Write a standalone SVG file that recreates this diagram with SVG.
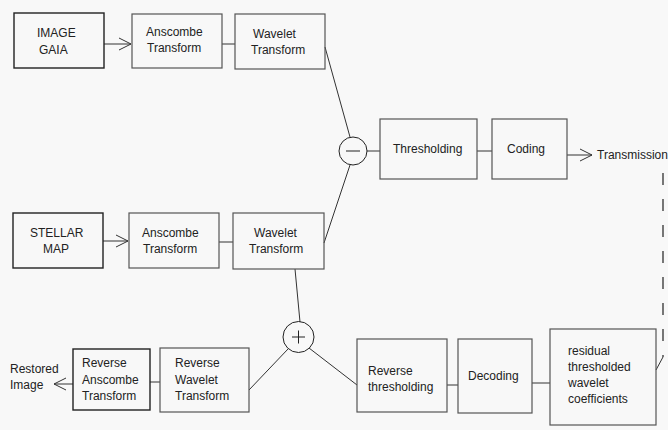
<svg xmlns="http://www.w3.org/2000/svg" width="668" height="430" viewBox="0 0 668 430">
  <defs>
    <style>
      .bg { fill: #f8f8f8; }
      .box { fill: none; stroke: #555; stroke-width: 1.2; }
      .src { fill: none; stroke: #222; stroke-width: 1.4; }
      .op { fill: none; stroke: #222; stroke-width: 1; }
      .ln { fill: none; stroke: #333; stroke-width: 1; }
      .dash { fill: none; stroke: #222; stroke-width: 1.2; stroke-dasharray: 12 14; }
      text { font-family: "Liberation Sans", Arial, sans-serif; font-size: 12px; fill: #222; }
    </style>
    <marker id="chev" markerUnits="userSpaceOnUse" markerWidth="16" markerHeight="16" refX="13" refY="7" orient="auto">
      <path d="M1,1 L13,7 L1,13" fill="none" stroke="#333" stroke-width="1"/>
    </marker>
  </defs>

  <rect class="bg" x="0" y="0" width="668" height="430"/>

  <!-- connectors -->
  <g id="connectors">
    <line class="ln" x1="104" y1="44" x2="131" y2="44" marker-end="url(#chev)"/>
    <line class="ln" x1="222" y1="44" x2="235" y2="44"/>
    <line class="ln" x1="325" y1="47" x2="350" y2="137"/>
    <line class="ln" x1="350" y1="165" x2="324" y2="243"/>
    <line class="ln" x1="367" y1="151" x2="380" y2="151"/>
    <line class="ln" x1="477" y1="151" x2="492" y2="151"/>
    <line class="ln" x1="567" y1="155" x2="592" y2="155" marker-end="url(#chev)"/>
    <line class="dash" x1="663" y1="173" x2="663" y2="357"/>
    <line class="ln" x1="663" y1="357" x2="656" y2="370"/>
    <line class="ln" x1="103" y1="241" x2="128" y2="241" marker-end="url(#chev)"/>
    <line class="ln" x1="219" y1="242" x2="233" y2="242"/>
    <line class="ln" x1="295" y1="269" x2="300" y2="322"/>
    <line class="ln" x1="309" y1="348" x2="357" y2="385"/>
    <line class="ln" x1="447" y1="385" x2="458" y2="385"/>
    <line class="ln" x1="532" y1="383" x2="550" y2="383"/>
    <line class="ln" x1="288" y1="349" x2="249" y2="390"/>
    <line class="ln" x1="150" y1="382" x2="160" y2="382"/>
    <line class="ln" x1="73" y1="384" x2="54" y2="384" marker-end="url(#chev)"/>
  </g>

  <!-- top row -->
  <g id="image-gaia">
    <rect class="src" x="14" y="13" width="90" height="55"/>
    <text x="37" y="37">IMAGE</text>
    <text x="39" y="54">GAIA</text>
  </g>
  <g id="anscombe-top">
    <rect class="box" x="132" y="14" width="90" height="54"/>
    <text x="146" y="36">Anscombe</text>
    <text x="147" y="52">Transform</text>
  </g>
  <g id="wavelet-top">
    <rect class="box" x="235" y="14" width="90" height="55"/>
    <text x="253" y="38">Wavelet</text>
    <text x="251" y="54">Transform</text>
  </g>

  <!-- difference and coding -->
  <g id="minus">
    <circle class="op" cx="353" cy="151" r="14"/>
    <line class="op" x1="346" y1="151" x2="360" y2="151"/>
  </g>
  <g id="thresholding">
    <rect class="box" x="380" y="119" width="97" height="60"/>
    <text x="393" y="153">Thresholding</text>
  </g>
  <g id="coding">
    <rect class="box" x="492" y="119" width="75" height="60"/>
    <text x="507" y="153">Coding</text>
  </g>
  <g id="transmission">
    <text x="597" y="159">Transmission</text>
  </g>

  <!-- second row -->
  <g id="stellar-map">
    <rect class="src" x="13" y="213" width="90" height="55"/>
    <text x="30" y="237">STELLAR</text>
    <text x="43" y="253">MAP</text>
  </g>
  <g id="anscombe-bottom">
    <rect class="box" x="129" y="213" width="90" height="55"/>
    <text x="142" y="237">Anscombe</text>
    <text x="143" y="253">Transform</text>
  </g>
  <g id="wavelet-bottom">
    <rect class="box" x="233" y="213" width="91" height="56"/>
    <text x="254" y="237">Wavelet</text>
    <text x="249" y="253">Transform</text>
  </g>

  <!-- reconstruction -->
  <g id="plus">
    <circle class="op" cx="298.5" cy="337" r="15.5"/>
    <line class="op" x1="292" y1="337" x2="305" y2="337"/>
    <line class="op" x1="298.5" y1="330.5" x2="298.5" y2="343.5"/>
  </g>
  <g id="restored-image">
    <text x="10" y="373">Restored</text>
    <text x="10" y="389">Image</text>
  </g>
  <g id="reverse-anscombe">
    <rect class="src" x="73" y="349" width="77" height="61"/>
    <text x="82" y="367">Reverse</text>
    <text x="82" y="384">Anscombe</text>
    <text x="82" y="400">Transform</text>
  </g>
  <g id="reverse-wavelet">
    <rect class="box" x="160" y="348" width="89" height="64"/>
    <text x="175" y="367">Reverse</text>
    <text x="175" y="384">Wavelet</text>
    <text x="175" y="400">Transform</text>
  </g>
  <g id="reverse-thresholding">
    <rect class="box" x="357" y="339" width="90" height="73"/>
    <text x="368" y="375">Reverse</text>
    <text x="368" y="391">thresholding</text>
  </g>
  <g id="decoding">
    <rect class="box" x="458" y="339" width="74" height="74"/>
    <text x="468" y="380">Decoding</text>
  </g>
  <g id="residual-coefficients">
    <rect class="box" x="550" y="329" width="106" height="96"/>
    <text x="568" y="355">residual</text>
    <text x="568" y="371">thresholded</text>
    <text x="568" y="387">wavelet</text>
    <text x="568" y="403">coefficients</text>
  </g>
</svg>
